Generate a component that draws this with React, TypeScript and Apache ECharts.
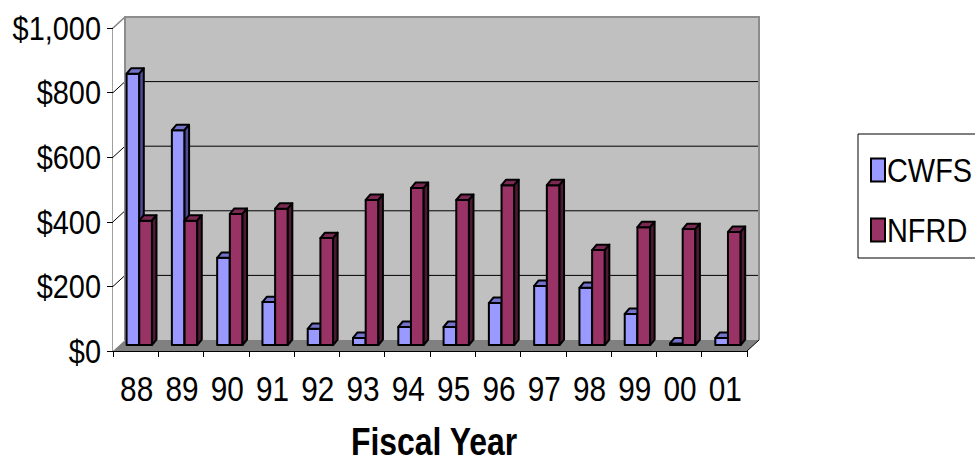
import { useEffect, useRef } from 'react';
import * as echarts from 'echarts';

const categories = ['88', '89', '90', '91', '92', '93', '94', '95', '96', '97', '98', '99', '00', '01'];
const cwfsValues = [840, 665, 270, 133, 50, 22, 56, 56, 130, 183, 177, 96, 5, 22];
const nfrdValues = [385, 385, 406, 422, 331, 449, 486, 449, 495, 495, 294, 365, 359, 350];
const yTickValues = [0, 200, 400, 600, 800, 1000];
const yTickLabels = ['$0', '$200', '$400', '$600', '$800', '$1,000'];
const seriesNames = ['CWFS', 'NFRD'];
const xAxisTitle = 'Fiscal Year';

const FONT = '"Liberation Sans", Arial, sans-serif';
const SX = 0.85;

const faceColors = [
  { front: '#9999FF', top: '#7373CC', side: '#4D4D99' },
  { front: '#993366', top: '#7A2952', side: '#4D1A33' },
];

function barRender(seriesIdx: number) {
  return (params: any, api: any) => {
    const i = api.value(0);
    const v = api.value(1);
    const catW = api.size([1, 0])[0];
    const pTop = api.coord([i, v]);
    const pBase = api.coord([i, 0]);
    const cx = pTop[0];
    const lift = catW * 0.132;
    const bw = catW * 0.28;
    const dx = catW * 0.1;
    const dy = catW * 0.12;
    const left = cx - catW * 0.2 + seriesIdx * bw;
    const yt = pTop[1] - lift;
    const yb = pBase[1] - lift;
    const c = faceColors[seriesIdx];
    const stroke = { stroke: '#000', lineWidth: 2, lineJoin: 'round' };
    return {
      type: 'group',
      children: [
        {
          type: 'rect',
          shape: { x: left, y: yt, width: bw, height: Math.max(yb - yt, 0) },
          style: { fill: c.front, ...stroke },
        },
        {
          type: 'polygon',
          shape: { points: [[left, yt], [left + dx, yt - dy], [left + bw + dx, yt - dy], [left + bw, yt]] },
          style: { fill: c.top, ...stroke },
        },
        {
          type: 'polygon',
          shape: { points: [[left + bw, yt], [left + bw + dx, yt - dy], [left + bw + dx, yb - dy], [left + bw, yb]] },
          style: { fill: c.side, ...stroke },
        },
      ],
    };
  };
}

function backgroundRender(params: any, api: any) {
  const cs = params.coordSys;
  const x0 = cs.x;
  const x1 = cs.x + cs.width;
  const yT = cs.y;
  const yB = cs.y + cs.height;
  const catW = api.size([1, 0])[0];
  const ox = catW * 0.265;
  const oy = catW * 0.243;
  const children: any[] = [
    {
      type: 'polygon',
      shape: { points: [[x0, yT], [x0 + ox, yT - oy], [x0 + ox, yB - oy], [x0, yB]] },
      style: { fill: '#FFFFFF' },
    },
    {
      type: 'rect',
      shape: { x: x0 + ox, y: yT - oy, width: x1 - x0, height: yB - yT },
      style: { fill: '#C0C0C0' },
    },
    {
      type: 'polygon',
      shape: { points: [[x0, yB], [x1, yB], [x1 + ox, yB - oy], [x0 + ox, yB - oy]] },
      style: { fill: '#808080' },
    },
  ];
  yTickValues.forEach((g) => {
    if (g === yTickValues[0] || g === yTickValues[yTickValues.length - 1]) return;
    const y = api.coord([0, g])[1];
    children.push({
      type: 'polyline',
      shape: { points: [[x0, y], [x0 + ox, y - oy], [x1 + ox, y - oy]] },
      style: { stroke: '#000', lineWidth: 1, fill: null },
    });
  });
  children.push({
    type: 'line',
    shape: { x1: x0, y1: yT, x2: x0 + ox, y2: yT - oy },
    style: { stroke: '#808080', lineWidth: 1.5 },
  });
  children.push({
    type: 'polyline',
    shape: { points: [[x0 + ox, yB - oy], [x0 + ox, yT - oy], [x1 + ox, yT - oy], [x1 + ox, yB - oy]] },
    style: { stroke: '#8C8C8C', lineWidth: 2, fill: null },
  });
  children.push({
    type: 'line',
    shape: { x1: x1, y1: yB, x2: x1 + ox, y2: yB - oy },
    style: { stroke: '#000', lineWidth: 1 },
  });
  // y-axis tick labels
  yTickValues.forEach((g, k) => {
    const y = api.coord([0, g])[1];
    children.push({
      type: 'text',
      x: x0 - 12,
      y,
      scaleX: SX,
      style: {
        text: yTickLabels[k],
        fontSize: 34,
        fontFamily: FONT,
        fill: '#000',
        align: 'right',
        verticalAlign: 'middle',
      },
    });
  });
  // x-axis category labels
  categories.forEach((c, i) => {
    const x = api.coord([i, 0])[0];
    children.push({
      type: 'text',
      x: x + 1,
      y: yB + 38,
      scaleX: SX,
      style: {
        text: c,
        fontSize: 35,
        fontFamily: FONT,
        fill: '#000',
        align: 'center',
        verticalAlign: 'middle',
      },
    });
  });
  // axis title
  children.push({
    type: 'text',
    x: (x0 + x1) / 2 + 4,
    y: yB + 90,
    scaleX: 0.84,
    style: {
      text: xAxisTitle,
      fontSize: 38,
      fontWeight: 'bold',
      fontFamily: FONT,
      fill: '#000',
      align: 'center',
      verticalAlign: 'middle',
    },
  });
  return { type: 'group', children };
}

export default function App() {
  const ref = useRef<HTMLDivElement>(null);
  useEffect(() => {
    if (!ref.current) return;
    const chart = echarts.init(ref.current, undefined, { renderer: 'svg' });
    const legendChildren: any[] = [
      {
        type: 'rect',
        shape: { x: 858, y: 134, width: 140, height: 124 },
        style: { fill: '#FFFFFF', stroke: '#000', lineWidth: 1 },
      },
    ];
    seriesNames.forEach((n, k) => {
      const cy = 170 + k * 60;
      legendChildren.push({
        type: 'rect',
        shape: { x: 871, y: cy - 11.5, width: 14, height: 23 },
        style: { fill: faceColors[k].front, stroke: '#000', lineWidth: 2 },
      });
      legendChildren.push({
        type: 'text',
        x: 887,
        y: cy,
        scaleX: SX,
        style: {
          text: n,
          fontSize: 34,
          fontFamily: FONT,
          fill: '#000',
          align: 'left',
          verticalAlign: 'middle',
        },
      });
    });
    const option: any = {
      animation: false,
      backgroundColor: '#FFFFFF',
      textStyle: { fontFamily: FONT },
      grid: { left: 113, right: 228, top: 28, bottom: 111, containLabel: false, outerBoundsMode: 'none' },
      graphic: [{ type: 'group', children: legendChildren }],
      xAxis: {
        type: 'category',
        data: categories,
        boundaryGap: true,
        axisLine: { show: true, lineStyle: { color: '#000', width: 1 } },
        axisTick: { show: true, length: 6, lineStyle: { color: '#000' } },
        axisLabel: { show: false },
        splitLine: { show: false },
      },
      yAxis: {
        type: 'value',
        min: 0,
        max: 1000,
        interval: 200,
        axisLine: { show: true, lineStyle: { color: '#808080', width: 1.5 } },
        axisTick: { show: true, length: 6, lineStyle: { color: '#000' } },
        splitLine: { show: false },
        axisLabel: { show: false },
      },
      series: [
        {
          type: 'custom',
          name: 'bg',
          z: 1,
          silent: true,
          clip: false,
          renderItem: backgroundRender,
          data: [[0, 0]],
        },
        {
          type: 'custom',
          name: seriesNames[0],
          z: 3,
          clip: false,
          renderItem: barRender(0),
          data: cwfsValues.map((v, i) => [i, v]),
        },
        {
          type: 'custom',
          name: seriesNames[1],
          z: 3,
          clip: false,
          renderItem: barRender(1),
          data: nfrdValues.map((v, i) => [i, v]),
        },
      ],
    };
    chart.setOption(option);
    return () => chart.dispose();
  }, []);
  return (
    <div
      ref={ref}
      style={{ position: 'absolute', left: 0, top: 0, width: 975, height: 462 }}
    />
  );
}
